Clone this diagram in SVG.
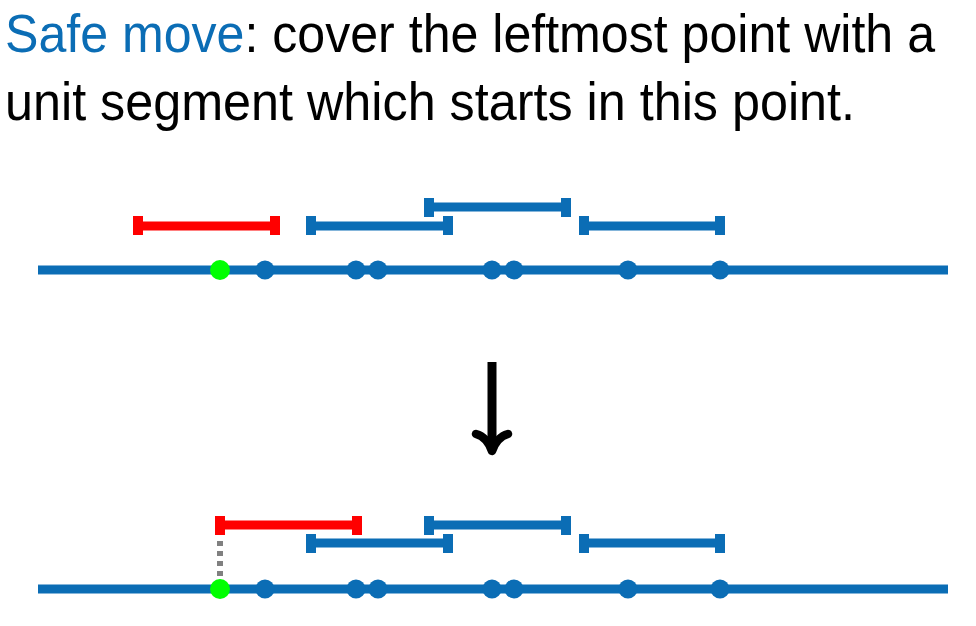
<svg xmlns="http://www.w3.org/2000/svg" width="976" height="626" viewBox="0 0 976 626">
<style>
.t{font-family:"Liberation Sans","DejaVu Sans",sans-serif;font-size:53px;fill:#000}
.hl{fill:#0b6db5}
.axis{stroke:#0b6db5;stroke-width:9;fill:none}
.pt{fill:#0b6db5}
.gp{fill:#00ff00}
.segb{stroke:#0b6db5;stroke-width:9;fill:none}
.segr{stroke:#ff0000;stroke-width:9;fill:none}
.capb{fill:#0b6db5}
.capr{fill:#ff0000}
</style>
<rect width="976" height="626" fill="#fff"/>
<text class="t" x="5" y="52" textLength="930" lengthAdjust="spacingAndGlyphs"><tspan class="hl">Safe move</tspan>: cover the leftmost point with a</text>
<text class="t" x="5" y="120" textLength="850" lengthAdjust="spacingAndGlyphs">unit segment which starts in this point.</text>

<g id="top-axis">
<line class="axis" x1="38" y1="270" x2="948" y2="270"/>
<circle class="gp" cx="220" cy="270" r="10"/>
<circle class="pt" cx="265" cy="270" r="9.5"/>
<circle class="pt" cx="356" cy="270" r="9.5"/>
<circle class="pt" cx="378" cy="270" r="9.5"/>
<circle class="pt" cx="492" cy="270" r="9.5"/>
<circle class="pt" cx="514" cy="270" r="9.5"/>
<circle class="pt" cx="628" cy="270" r="9.5"/>
<circle class="pt" cx="720" cy="270" r="9.5"/>
</g>
<g id="top-red">
<line class="segr" x1="138" y1="226" x2="275" y2="226"/>
<rect class="capr" x="133" y="216" width="10" height="19"/>
<rect class="capr" x="270" y="216" width="10" height="19"/>
</g>
<g id="top-blue1">
<line class="segb" x1="311" y1="226" x2="448" y2="226"/>
<rect class="capb" x="306" y="216" width="10" height="19"/>
<rect class="capb" x="443" y="216" width="10" height="19"/>
</g>
<g id="top-blue2">
<line class="segb" x1="429" y1="207" x2="566" y2="207"/>
<rect class="capb" x="424" y="198" width="10" height="19"/>
<rect class="capb" x="561" y="198" width="10" height="19"/>
</g>
<g id="top-blue3">
<line class="segb" x1="584" y1="226" x2="720" y2="226"/>
<rect class="capb" x="579" y="216" width="10" height="19"/>
<rect class="capb" x="715" y="216" width="10" height="19"/>
</g>

<g id="arrow">
<line x1="492" y1="362" x2="492" y2="446" stroke="#000" stroke-width="9"/>
<path d="M476,434 Q487,437 492,451 Q497,437 508,434" fill="none" stroke="#000" stroke-width="8.5" stroke-linecap="round" stroke-linejoin="round"/>
</g>

<g id="bottom-axis">
<line class="axis" x1="38" y1="589" x2="948" y2="589"/>
<circle class="pt" cx="265" cy="589" r="9.5"/>
<circle class="pt" cx="356" cy="589" r="9.5"/>
<circle class="pt" cx="378" cy="589" r="9.5"/>
<circle class="pt" cx="492" cy="589" r="9.5"/>
<circle class="pt" cx="514" cy="589" r="9.5"/>
<circle class="pt" cx="628" cy="589" r="9.5"/>
<circle class="pt" cx="720" cy="589" r="9.5"/>
</g>
<g id="connectors">
<line x1="220" y1="541" x2="220" y2="580" stroke="#808080" stroke-width="6" stroke-dasharray="5,5"/>
</g>
<g id="bottom-green">
<circle class="gp" cx="220" cy="589" r="10"/>
</g>
<g id="bottom-red">
<line class="segr" x1="220" y1="525" x2="357" y2="525"/>
<rect class="capr" x="215" y="516" width="10" height="19"/>
<rect class="capr" x="352" y="516" width="10" height="19"/>
</g>
<g id="bottom-blue1">
<line class="segb" x1="311" y1="543" x2="448" y2="543"/>
<rect class="capb" x="306" y="534" width="10" height="19"/>
<rect class="capb" x="443" y="534" width="10" height="19"/>
</g>
<g id="bottom-blue2">
<line class="segb" x1="429" y1="525" x2="566" y2="525"/>
<rect class="capb" x="424" y="516" width="10" height="19"/>
<rect class="capb" x="561" y="516" width="10" height="19"/>
</g>
<g id="bottom-blue3">
<line class="segb" x1="584" y1="543" x2="720" y2="543"/>
<rect class="capb" x="579" y="534" width="10" height="19"/>
<rect class="capb" x="715" y="534" width="10" height="19"/>
</g>
</svg>
